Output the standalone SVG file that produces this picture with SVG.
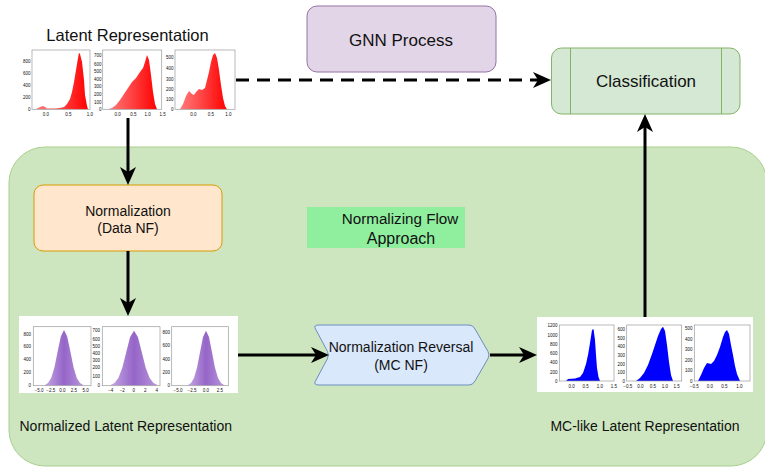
<svg xmlns="http://www.w3.org/2000/svg" width="765" height="468" viewBox="0 0 765 468">
<defs>
<style>
text{font-family:"Liberation Sans",Arial,Helvetica,sans-serif;fill:#111}
.lbl{font-size:14px}
.big{font-size:17px}
.tk{font-size:4.5px;fill:#444}
.tr{text-anchor:end}
.tc{text-anchor:middle}
.frame{fill:none;stroke:#9a9a9a;stroke-width:0.7}
.conn{stroke:#000;stroke-width:3;fill:none}
</style>
<linearGradient id="gRed" x1="0" y1="0" x2="1" y2="0"><stop offset="0" stop-color="#ff7b7b"/><stop offset="0.5" stop-color="#ff4040"/><stop offset="1" stop-color="#ff0000"/></linearGradient>
<linearGradient id="gPur" x1="0" y1="0" x2="1" y2="0"><stop offset="0" stop-color="#c4a6e2"/><stop offset="0.5" stop-color="#9565c8"/><stop offset="1" stop-color="#b896dc"/></linearGradient>
<marker id="ah" viewBox="0 0 18 16" markerWidth="18" markerHeight="16" refX="5" refY="8" orient="auto" markerUnits="userSpaceOnUse"><path d="M0,0 L18,8 L0,16 L5,8 Z" fill="#000"/></marker>
</defs>
<rect width="765" height="468" fill="#fff"/>

<g id="nf-container">
<rect x="9" y="147" width="758" height="319" rx="36" fill="#cde6bf" stroke="#a8d08d" stroke-width="1"/>
</g>

<g id="nf-label">
<rect x="307" y="207" width="158" height="41" fill="#90ee9f"/>
<text class="tc" x="400" y="223.5" font-size="15.2">Normalizing Flow</text>
<text class="tc" x="401" y="243.5" font-size="16">Approach</text>
</g>

<g id="gnn">
<rect x="307" y="6" width="189" height="66" rx="10" fill="#e1d5e7" stroke="#9673a6"/>
<text class="big tc" x="401" y="45.5">GNN Process</text>
</g>

<g id="classification">
<rect x="551.5" y="48" width="188.5" height="66" rx="10" fill="#d5e8d4" stroke="#82b366"/>
<line x1="570.5" y1="48" x2="570.5" y2="114" stroke="#82b366"/>
<line x1="721.5" y1="48" x2="721.5" y2="114" stroke="#82b366"/>
<text class="big tc" x="646" y="87">Classification</text>
</g>

<g id="normalization">
<rect x="34" y="185" width="188" height="66" rx="9" fill="#ffe6cc" stroke="#d79b00"/>
<text class="lbl tc" x="128" y="215.7">Normalization</text>
<text class="lbl tc" x="128" y="233">(Data NF)</text>
</g>

<g id="reversal">
<path d="M319,325 L469,325 Q473,325 475,329 L488,351.5 Q490,355 488,358.5 L475,381 Q473,385 469,385 L319,385 Q313,385 315.5,381 L327.5,358.5 Q329,355 327.5,351.5 L315.5,329 Q313,325 319,325 Z" fill="#dae8fc" stroke="#6c8ebf"/>
<text class="lbl tc" x="401" y="351.7">Normalization Reversal</text>
<text class="lbl tc" x="401" y="370">(MC NF)</text>
</g>

<g id="latent">
<text class="tc" x="127.5" y="41" font-size="16.5">Latent Representation</text>
<rect x="22" y="47" width="215" height="72" fill="#fff"/>
<polygon fill="url(#gRed)" points="36,109.3 38,108 40,107 43,106 45,107 47,108.5 55,108.5 60,108 64,107 67,104 70,99 72,92 74,82 76,70 78,58 79,52.7 80,54 82,62 84,80 85,95 87,106 88,109.3"/>
<rect class="frame" x="32" y="50" width="58" height="59.3"/>
<g class="tk tr"><text x="30.5" y="110.8">0</text><text x="30.5" y="98.8">200</text><text x="30.5" y="86.5">400</text><text x="30.5" y="74.8">600</text><text x="30.5" y="62.5">800</text></g>
<g class="tk tc"><text x="46" y="115.5">0.0</text><text x="68.3" y="115.5">0.5</text><text x="90" y="115.5">1.0</text></g>
<polygon fill="url(#gRed)" points="108,109.3 112,108 116,105 120,100 124,94 128,88 132,82 136,78 140,72 143,68 145,62 147,55 149,60 151,75 153,92 155,104 157,109.3"/>
<rect class="frame" x="102.7" y="50" width="59" height="59.3"/>
<g class="tk tr"><text x="101.5" y="110.8">0</text><text x="101.5" y="103.5">100</text><text x="101.5" y="96.2">200</text><text x="101.5" y="88.2">300</text><text x="101.5" y="80.8">400</text><text x="101.5" y="73.2">500</text><text x="101.5" y="65.5">600</text><text x="101.5" y="57.2">700</text></g>
<g class="tk tc"><text x="117.7" y="115.5">0.0</text><text x="133.3" y="115.5">0.5</text><text x="147.7" y="115.5">1.0</text><text x="162.7" y="115.5">1.5</text></g>
<polygon fill="url(#gRed)" points="180,109.3 183,104 186,96 189,91 192,94 194,95 196,92 199,89 202,90 205,88 207,80 209,72 211,62 213,55 215,53 217,58 219,70 221,85 223,98 225,106 227,109.3"/>
<rect class="frame" x="175" y="50" width="60" height="59.3"/>
<g class="tk tr"><text x="173.5" y="110.8">0</text><text x="173.5" y="100.8">100</text><text x="173.5" y="90.8">200</text><text x="173.5" y="80.5">300</text><text x="173.5" y="69.8">400</text><text x="173.5" y="59.2">500</text></g>
<g class="tk tc"><text x="193.3" y="115.5">0.0</text><text x="211" y="115.5">0.5</text><text x="228.3" y="115.5">1.0</text></g>
</g>

<g id="normalized">
<rect x="19" y="316" width="219" height="77" fill="#fff"/>
<polygon fill="url(#gPur)" points="44.8,385.5 44.8,384.9 48,383.1 51.2,378 54.4,367.5 57.6,351.8 60.8,336.5 64,330 67.2,336.5 70.4,351.8 73.6,367.5 76.8,378 80,383.1 83.2,384.9 83.2,385.5"/>
<rect class="frame" x="33.3" y="326.7" width="57.7" height="59"/>
<g class="tk tr"><text x="31" y="386.8">0</text><text x="31" y="374.2">200</text><text x="31" y="361.2">400</text><text x="31" y="348.2">600</text><text x="31" y="335.5">800</text></g>
<g class="tk tc"><text x="39" y="391.5">−5.0</text><text x="50.7" y="391.5">−2.5</text><text x="62.3" y="391.5">0.0</text><text x="74" y="391.5">2.5</text><text x="85.7" y="391.5">5.0</text></g>
<polygon fill="url(#gPur)" points="110.6,385.5 110.6,384.9 114.5,383.1 118.4,378.1 122.3,367.7 126.2,352.3 130.1,337.1 134,330.7 137.9,337.1 141.8,352.3 145.7,367.7 149.6,378.1 153.5,383.1 157.4,384.9 157.4,385.5"/>
<rect class="frame" x="102.3" y="326.7" width="57.7" height="59"/>
<g class="tk tr"><text x="100" y="386.8">0</text><text x="100" y="377.5">100</text><text x="100" y="369.2">200</text><text x="100" y="362.2">300</text><text x="100" y="354.8">400</text><text x="100" y="347.5">500</text><text x="100" y="340.8">600</text><text x="100" y="332.2">700</text></g>
<g class="tk tc"><text x="110.7" y="391.5">−4</text><text x="122.3" y="391.5">−2</text><text x="133.7" y="391.5">0</text><text x="145.3" y="391.5">2</text><text x="156.7" y="391.5">4</text></g>
<polygon fill="url(#gPur)" points="188,385.5 188,384.9 191,383.1 194,378.1 197,367.7 200,352.3 203,337.1 206,330.7 209,337.1 212,352.3 215,367.7 218,378.1 221,383.1 224,384.9 224,385.5"/>
<rect class="frame" x="171.7" y="326.7" width="56.6" height="59"/>
<g class="tk tr"><text x="170" y="386.8">0</text><text x="170" y="373.5">200</text><text x="170" y="360.5">400</text><text x="170" y="346.8">600</text><text x="170" y="333.8">800</text></g>
<g class="tk tc"><text x="178" y="391.5">−5.0</text><text x="192" y="391.5">−2.5</text><text x="206" y="391.5">0.0</text><text x="220" y="391.5">2.5</text></g>
<text class="lbl" x="19.5" y="431">Normalized Latent Representation</text>
</g>

<g id="mc-like">
<rect x="537" y="317" width="216" height="75" fill="#fff"/>
<polygon fill="#0000ff" points="566,381 568,379 575,378.5 580,377 583,373 586,364 588,355 590,343 592,330 593.5,329 595,340 596,355 597,368 598.5,377 600,381"/>
<rect class="frame" x="559.3" y="325" width="54.7" height="56"/>
<g class="tk tr"><text x="557.5" y="382.5">0</text><text x="557.5" y="373.5">200</text><text x="557.5" y="364.2">400</text><text x="557.5" y="354.8">600</text><text x="557.5" y="345.8">800</text><text x="557.5" y="336.5">1000</text><text x="557.5" y="327.2">1200</text></g>
<g class="tk tc"><text x="571.7" y="387.5">0.0</text><text x="585.7" y="387.5">0.5</text><text x="600" y="387.5">1.0</text><text x="614" y="387.5">1.5</text></g>
<polygon fill="#0000ff" points="636,381 640,378 644,373 648,365 652,354 655,345 658,336 661,329 663,326.7 665,331 667,345 669,362 671,375 673,381"/>
<rect class="frame" x="626.7" y="325" width="55" height="56"/>
<g class="tk tr"><text x="625" y="382.5">0</text><text x="625" y="374.2">100</text><text x="625" y="365.5">200</text><text x="625" y="356.8">300</text><text x="625" y="348.2">400</text><text x="625" y="339.5">500</text><text x="625" y="330.5">600</text></g>
<g class="tk tc"><text x="627.7" y="387.5">−0.5</text><text x="640.3" y="387.5">0.0</text><text x="653" y="387.5">0.5</text><text x="665" y="387.5">1.0</text><text x="676.7" y="387.5">1.5</text></g>
<polygon fill="#0000ff" points="698,381 701,375 704,368 707,363 711,364 714,361 717,355 720,347 723,337 725,332 727,330 729,334 731,345 733,355 735,366 737,374 740,381"/>
<rect class="frame" x="694.3" y="325" width="55.7" height="56"/>
<g class="tk tr"><text x="692.5" y="382.5">0</text><text x="692.5" y="372">100</text><text x="692.5" y="361.5">200</text><text x="692.5" y="351">300</text><text x="692.5" y="340.5">400</text><text x="692.5" y="330">500</text></g>
<g class="tk tc"><text x="694.3" y="387.5">−0.5</text><text x="710" y="387.5">0.0</text><text x="724.3" y="387.5">0.5</text><text x="739.3" y="387.5">1.0</text></g>
<text class="lbl tc" x="645" y="431">MC-like Latent Representation</text>
</g>

<g id="connectors">
<line class="conn" x1="128" y1="118" x2="128" y2="172" marker-end="url(#ah)"/>
<line class="conn" x1="128" y1="251" x2="128" y2="303" marker-end="url(#ah)"/>
<line class="conn" x1="238" y1="355" x2="316" y2="355" marker-end="url(#ah)"/>
<line class="conn" x1="490" y1="355" x2="524" y2="355" marker-end="url(#ah)"/>
<line class="conn" x1="645" y1="317" x2="645" y2="127" marker-end="url(#ah)"/>
<line class="conn" x1="236" y1="80" x2="538" y2="80" stroke-dasharray="13 8" marker-end="url(#ah)"/>
</g>
</svg>
